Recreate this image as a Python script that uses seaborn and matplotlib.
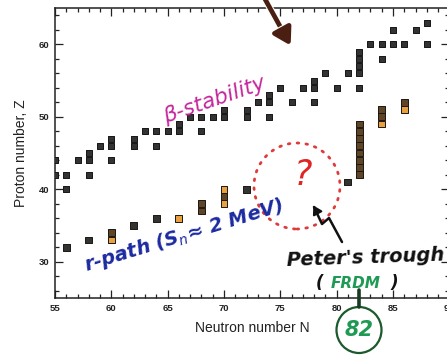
import numpy as np
import pandas as pd
import matplotlib
matplotlib.use("Agg")
import matplotlib.pyplot as plt
import matplotlib.patches as mpatches
import matplotlib.patheffects as pe
from matplotlib.ticker import MultipleLocator
import seaborn as sns

# Stable nuclei (neutron number, proton number)
stable_N = [55, 55, 56, 56, 57, 58, 58, 58, 59, 60, 60, 60, 62, 62, 63, 64, 64, 65,
            66, 66, 67, 68, 68, 69, 70, 70, 72, 72, 73, 74, 74, 74, 75, 76, 77, 78,
            78, 78, 79, 80, 81, 82, 82, 82, 82, 82, 83, 84, 84, 85, 85, 86, 87, 88, 88]
stable_Z = [44, 42, 42, 40, 44, 45, 44, 42, 46, 47, 46, 44, 47, 46, 48, 48, 46, 48,
            49, 48, 50, 50, 48, 50, 51, 50, 51, 50, 52, 53, 52, 50, 54, 52, 54, 55,
            54, 52, 56, 54, 56, 59, 58, 57, 56, 54, 60, 60, 58, 62, 60, 60, 62, 63, 60]

# r-process path nuclei (S_n ~ 2 MeV) and their shading class
rpath_N = [56, 58, 60, 60, 62, 64, 66, 68, 68, 70, 70, 70, 72, 81,
           82, 82, 82, 82, 82, 82, 82, 82, 84, 84, 84, 86, 86]
rpath_Z = [32, 33, 34, 33, 35, 36, 36, 38, 37, 40, 39, 38, 40, 41,
           42, 43, 44, 45, 46, 47, 48, 49, 51, 50, 49, 52, 51]
rpath_kind = ["dark", "dark", "brown", "orange", "dark", "dark", "orange", "brown", "brown",
              "orange", "brown", "orange", "dark", "dark",
              "brown", "brown", "brown", "brown", "brown", "brown", "brown", "brown",
              "brown", "brown", "orange", "brown", "orange"]

x_ticks = [55, 60, 65, 70, 75, 80, 85, 90]
y_ticks = [30, 40, 50, 60]

W, H = 447, 355
sns.set_theme(style="white")
plt.rcParams["font.family"] = ["Liberation Sans", "DejaVu Sans"]

fig = plt.figure(figsize=(W / 100, H / 100), dpi=100)
ax = fig.add_axes([55 / W, 1 - 298 / H, 394.3 / W, 290 / H])


def fpx(x, y):
    """Figure fraction from pixel position (origin top-left)."""
    return (x / W, 1 - y / H)


stable = pd.DataFrame({"N": stable_N, "Z": stable_Z})
rpath = pd.DataFrame({"N": rpath_N, "Z": rpath_Z, "kind": rpath_kind})

sns.scatterplot(data=stable, x="N", y="Z", marker="s", s=25, color="#333333",
                edgecolor="#151515", linewidth=0.7, ax=ax, zorder=3)
sns.scatterplot(data=rpath, x="N", y="Z", hue="kind", marker="s", s=25,
                palette={"dark": "#333333", "brown": "#5e4527", "orange": "#e9a03e"},
                edgecolor="#1d1710", linewidth=0.7, legend=False, ax=ax, zorder=3)

ax.set_xlim(55, 90)
ax.set_ylim(25, 65)
ax.xaxis.set_major_locator(MultipleLocator(5))
ax.xaxis.set_minor_locator(MultipleLocator(1))
ax.yaxis.set_major_locator(MultipleLocator(10))
ax.yaxis.set_minor_locator(MultipleLocator(2))
ax.set_xticks(x_ticks)
ax.set_yticks(y_ticks)
ax.set_xticklabels([str(v) for v in x_ticks], fontsize=6.8, fontweight="bold", color="#222222")
ax.set_yticklabels([str(v) for v in y_ticks], fontsize=6.8, fontweight="bold", color="#222222")
ax.tick_params(which="both", direction="in", top=True, right=True, bottom=True, left=True,
               color="#222222", width=0.9)
ax.tick_params(which="major", length=6, pad=4)
ax.tick_params(which="minor", length=3)
for sp in ax.spines.values():
    sp.set_color("#222222")
    sp.set_linewidth(1.1)
ax.set_xlabel("Neutron number N", fontsize=10, color="#222222", labelpad=6)
ax.set_ylabel("Proton number, Z", fontsize=10, color="#222222", labelpad=8)

# Handwritten annotations
hand = dict(family="DejaVu Sans", style="oblique", ha="center", va="center")
fig.text(*fpx(214, 100), "β-stability", color="#c4269b", fontsize=15.5, rotation=19, **hand)
fig.text(*fpx(184, 236), r"r-path (S$_n$≈ 2 MeV)", color="#1c2aa0", fontsize=14,
         fontweight="bold", rotation=17, **hand)
fig.text(*fpx(303, 175), "?", color="#e02525", fontsize=25, **hand)
fig.text(*fpx(365, 258), "Peter's trough", color="#111111", fontsize=14,
         fontweight="bold", rotation=2, **hand)
fig.text(*fpx(320, 283), "(", color="#111111", fontsize=12, fontweight="bold", **hand)
fig.text(*fpx(356, 283), "FRDM", color="#1f9a55", fontsize=11, fontweight="bold", **hand)
fig.text(*fpx(394, 283), ")", color="#111111", fontsize=12, fontweight="bold", **hand)

# Red dotted circle around the trough
fig.add_artist(mpatches.Ellipse(fpx(297, 186), 86 / W, 86 / H, transform=fig.transFigure,
                                fill=False, edgecolor="#e03a3a", linewidth=2.0,
                                linestyle=(0, (0.6, 2.6)), capstyle="round"))

# Zigzag pointer from the label to the circle
zig_x = [342, 329, 322, 314]
zig_y = [242, 218, 224, 207]
fig.add_artist(plt.Line2D([x / W for x in zig_x], [1 - y / H for y in zig_y],
                          transform=fig.transFigure, color="#111111", linewidth=1.8,
                          solid_capstyle="round", solid_joinstyle="round"))
fig.add_artist(mpatches.FancyArrowPatch(fpx(318, 214), fpx(312, 203), transform=fig.transFigure,
                                        arrowstyle="-|>,head_length=5,head_width=3",
                                        color="#111111", linewidth=1.5))

# N = 82 marker below the axis
fig.add_artist(plt.Line2D([359 / W, 359 / W], [1 - 290 / H, 1 - 307 / H],
                          transform=fig.transFigure, color="#1a3a22", linewidth=2.6))
fig.add_artist(mpatches.Ellipse(fpx(359, 330), 45 / W, 46 / H, transform=fig.transFigure,
                                fill=False, edgecolor="#1b5a2c", linewidth=1.6))
fig.text(*fpx(359, 330), "82", color="#1f9a55", fontsize=15, fontweight="bold", **hand)

# Brown arrow from the top
arr = mpatches.FancyArrowPatch(fpx(260, -10), fpx(292, 48), transform=fig.transFigure,
                               arrowstyle="-|>,head_length=10,head_width=6",
                               color="#4a1e10", linewidth=3.4)
arr.set_path_effects([pe.Stroke(linewidth=5, foreground="white"), pe.Normal()])
fig.add_artist(arr)

fig.savefig("out.png", dpi=100)
